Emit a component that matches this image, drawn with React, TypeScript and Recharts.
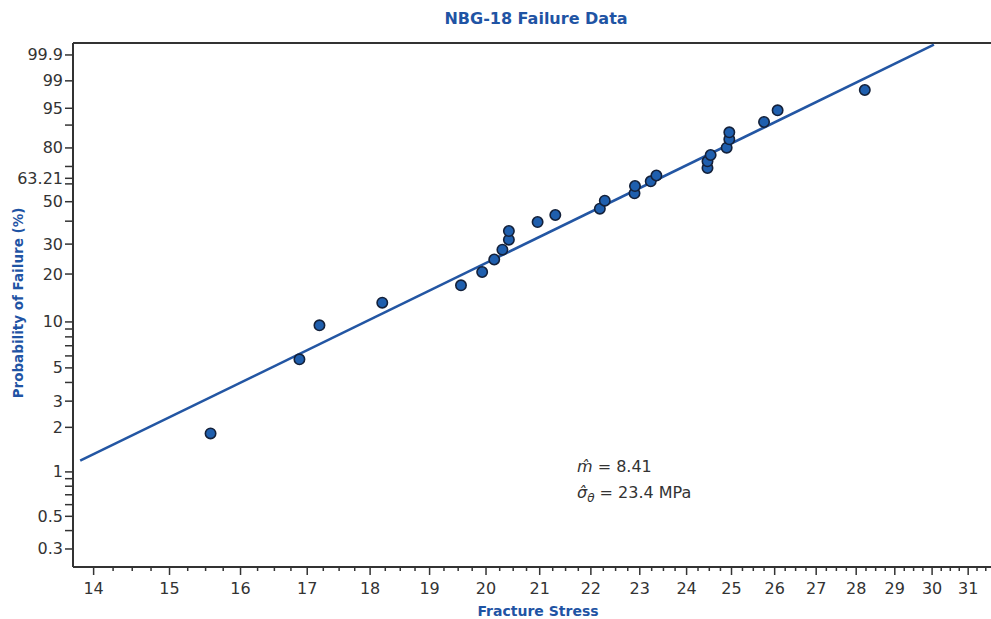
import React from "react";
import { ScatterChart, Scatter, XAxis, YAxis, ReferenceLine } from "recharts";

// fracture stress (MPa) and probability of failure (%)
const stress = [
  15.57, 16.88, 17.19, 18.2, 19.55, 19.93, 20.15, 20.3, 20.42, 20.42, 20.96,
  21.3, 22.18, 22.28, 22.89, 22.9, 23.23, 23.35, 24.46, 24.46, 24.53, 24.89,
  24.95, 24.95, 25.75, 26.07, 28.22,
];
const failurePct = [
  1.82, 5.7, 9.51, 13.27, 17.05, 20.58, 24.44, 27.87, 31.76, 35.46, 39.6,
  43.04, 46.26, 50.54, 54.64, 58.78, 61.48, 64.83, 69.12, 72.89, 76.32, 80.12,
  84.16, 87.2, 91.08, 94.51, 98.15,
];

// end points of the fitted Weibull line
const fitStress = [13.83, 30.05];
const fitPct = [1.19, 99.97];

const yMajorTicks = [99.9, 99, 95, 80, 63.21, 50, 30, 20, 10, 5, 3, 2, 1, 0.5, 0.3];
const yMinorTicks = [90, 70, 60, 40, 9, 8, 7, 6, 4, 0.9, 0.8, 0.7, 0.6, 0.4];
const xMajorTicks = [14, 15, 16, 17, 18, 19, 20, 21, 22, 23, 24, 25, 26, 27, 28, 29, 30, 31];

const AXIS = "#333";
const BLUE = "#1f54a4";
const POINT = "#1f5fae";
const FONT = "'DejaVu Sans', Verdana, sans-serif";

// Weibull probability scale: ln(-ln(1 - F))
const weibull = (pct: number) => Math.log(-Math.log(1 - pct / 100));

const points = stress.map((s, i) => ({ x: s, y: weibull(failurePct[i]) }));
const fitLine = fitStress.map((s, i) => ({ x: s, y: weibull(fitPct[i]) }));

const yTicks = [...yMajorTicks, ...yMinorTicks].map(weibull);
const xTicks: number[] = [];
xMajorTicks.forEach((t) => {
  for (let q = 0; q < 4; q++) if (t + q * 0.25 < 31.6) xTicks.push(t + q * 0.25);
});

function yLabel(value: number) {
  const hit = yMajorTicks.find((p) => Math.abs(weibull(p) - value) < 1e-6);
  return hit === undefined ? null : String(hit);
}

function YTick(props: any) {
  const { x, y, payload } = props;
  const label = yLabel(payload.value);
  return (
    <g>
      <line x1={x - 8} x2={x} y1={y} y2={y} stroke={AXIS} strokeWidth={1.5} />
      {label && (
        <text
          x={x - 10}
          y={y}
          textAnchor="end"
          dominantBaseline="central"
          fontSize={16}
          fontFamily={FONT}
          fill="#333"
        >
          {label}
        </text>
      )}
    </g>
  );
}

function XTick(props: any) {
  const { x, y, payload } = props;
  const major = Number.isInteger(payload.value);
  return (
    <g>
      <line x1={x} x2={x} y1={y} y2={y + (major ? 8 : 4)} stroke={AXIS} strokeWidth={1.5} />
      {major && (
        <text
          x={x}
          y={y + 21}
          textAnchor="middle"
          dominantBaseline="central"
          fontSize={16}
          fontFamily={FONT}
          fill="#333"
        >
          {payload.value}
        </text>
      )}
    </g>
  );
}

export default function App() {
  return (
    <div style={{ position: "relative", width: 991, height: 619, fontFamily: FONT }}>
      <style>{`body{margin:0}`}</style>
      <ScatterChart
        width={991}
        height={619}
        margin={{ top: 43, right: 0, bottom: 0, left: 0 }}
      >
        <XAxis
          type="number"
          dataKey="x"
          scale="log"
          domain={[13.74, 31.65]}
          allowDataOverflow
          ticks={xTicks}
          interval={0}
          tick={<XTick />}
          tickLine={false}
          tickSize={0}
          tickMargin={0}
          axisLine={{ stroke: AXIS, strokeWidth: 2 }}
          height={52}
        />
        <YAxis
          type="number"
          dataKey="y"
          domain={[-6.09, 2.12]}
          allowDataOverflow
          ticks={yTicks}
          interval={0}
          tick={<YTick />}
          tickLine={false}
          tickSize={0}
          tickMargin={0}
          axisLine={{ stroke: AXIS, strokeWidth: 2 }}
          width={73}
        />
        <ReferenceLine y={2.12} stroke={AXIS} strokeWidth={2} />
        <Scatter
          data={fitLine}
          line={{ stroke: "#2356a3", strokeWidth: 2.5 }}
          shape={() => <g />}
          isAnimationActive={false}
        />
        <Scatter
          data={points}
          shape={(p: any) => (
            <circle cx={p.cx} cy={p.cy} r={5.2} fill={POINT} stroke="#14213a" strokeWidth={1.6} />
          )}
          isAnimationActive={false}
        />
      </ScatterChart>

      <div
        style={{
          position: "absolute",
          left: 536,
          top: 18,
          transform: "translate(-50%, -50%)",
          color: BLUE,
          fontWeight: 700,
          fontSize: 16,
          whiteSpace: "nowrap",
        }}
      >
        NBG-18 Failure Data
      </div>
      <div
        style={{
          position: "absolute",
          left: 18,
          top: 303,
          transform: "translate(-50%, -50%) rotate(-90deg)",
          color: BLUE,
          fontWeight: 700,
          fontSize: 13.5,
          whiteSpace: "nowrap",
        }}
      >
        Probability of Failure (%)
      </div>
      <div
        style={{
          position: "absolute",
          left: 538,
          top: 611,
          transform: "translate(-50%, -50%)",
          color: BLUE,
          fontWeight: 700,
          fontSize: 14,
          whiteSpace: "nowrap",
        }}
      >
        Fracture Stress
      </div>
      <div
        style={{
          position: "absolute",
          left: 577,
          top: 454,
          color: "#333",
          fontSize: 16,
          lineHeight: "26px",
          whiteSpace: "nowrap",
        }}
      >
        <div>
          <i>m&#770;</i> = 8.41
        </div>
        <div>
          <i>σ&#770;</i>
          <sub style={{ fontSize: 12, fontStyle: "italic", lineHeight: 0 }}>θ</sub> = 23.4 MPa
        </div>
      </div>
    </div>
  );
}
